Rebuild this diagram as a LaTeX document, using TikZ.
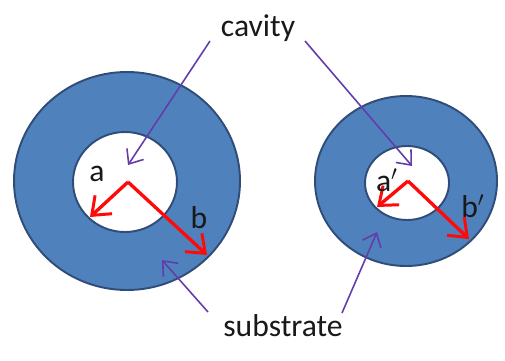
\documentclass[tikz,border=0pt]{standalone}
\usepackage{fontspec}
\setmainfont{Carlito}
\usepackage{tikz}
\usetikzlibrary{arrows.meta, positioning}
\definecolor{subblue}{RGB}{79,129,189}
\definecolor{subedge}{RGB}{47,77,120}
\definecolor{myred}{RGB}{255,10,10}
\definecolor{mypurple}{RGB}{100,60,170}
\definecolor{mydark}{RGB}{25,25,25}
\tikzset{
  substrate/.style={fill=subblue, draw=subedge, line width=1.1pt},
  cavityhole/.style={fill=white, draw=subedge, line width=1.1pt},
  radius arrow/.style={-{Straight Barb[length=3.2mm, width=5mm, line width=1.7pt]},
    line width=1.9pt, color=myred},
  pointer/.style={-{Straight Barb[length=2.4mm, width=4mm]}, line width=0.9pt, color=mypurple},
  tag/.style={font=\fontsize{18}{20}\selectfont, text=mydark, inner sep=0pt}
}
\begin{document}
\begin{tikzpicture}[x=0.2mm, y=-0.2mm]
  \useasboundingbox (0,0) rectangle (505,360);
  % left ring (substrate with cavity)
  \draw[substrate] (127,181) ellipse (113 and 109);
  \draw[cavityhole] (125,182) ellipse (52 and 50);
  % right ring
  \draw[substrate] (406,181) ellipse (91 and 85);
  \draw[cavityhole] (407,183) ellipse (42 and 37);

  % radii
  \coordinate (cL) at (128,182);
  \coordinate (aL) at (90,217);
  \coordinate (bL) at (207,255);
  \coordinate (cR) at (408,181);
  \coordinate (aR) at (377,207);
  \coordinate (bR) at (469,239);
  \draw[radius arrow] (cL) -- (aL);
  \draw[radius arrow] (cL) -- (bL);
  \draw[radius arrow] (cR) -- (aR);
  \draw[radius arrow] (cR) -- (bR);
  \node[tag] (a)  at (97,174)  {a};
  \node[tag] (b)  at (199,218) {b};
  \node[tag] (a2) at (387,180) {a$'$};
  \node[tag] (b2) at (473,206) {b$'$};

  % labels with pointers
  \node[tag] (cavity) at (258,28) {cavity};
  \node[tag] (subst) at (283,326) {substrate};
  \coordinate (cav1) at (210,41);
  \coordinate (cav2) at (305,41);
  \coordinate (sub1) at (208,312);
  \coordinate (sub2) at (342,313);
  \coordinate (inL) at (128,165);
  \coordinate (inR) at (412,166);
  \coordinate (ringL) at (162,260);
  \coordinate (ringR) at (377,232);
  \draw[pointer] (cav1) -- (inL);
  \draw[pointer] (cav2) -- (inR);
  \draw[pointer] (sub1) -- (ringL);
  \draw[pointer] (sub2) -- (ringR);
\end{tikzpicture}
\end{document}
